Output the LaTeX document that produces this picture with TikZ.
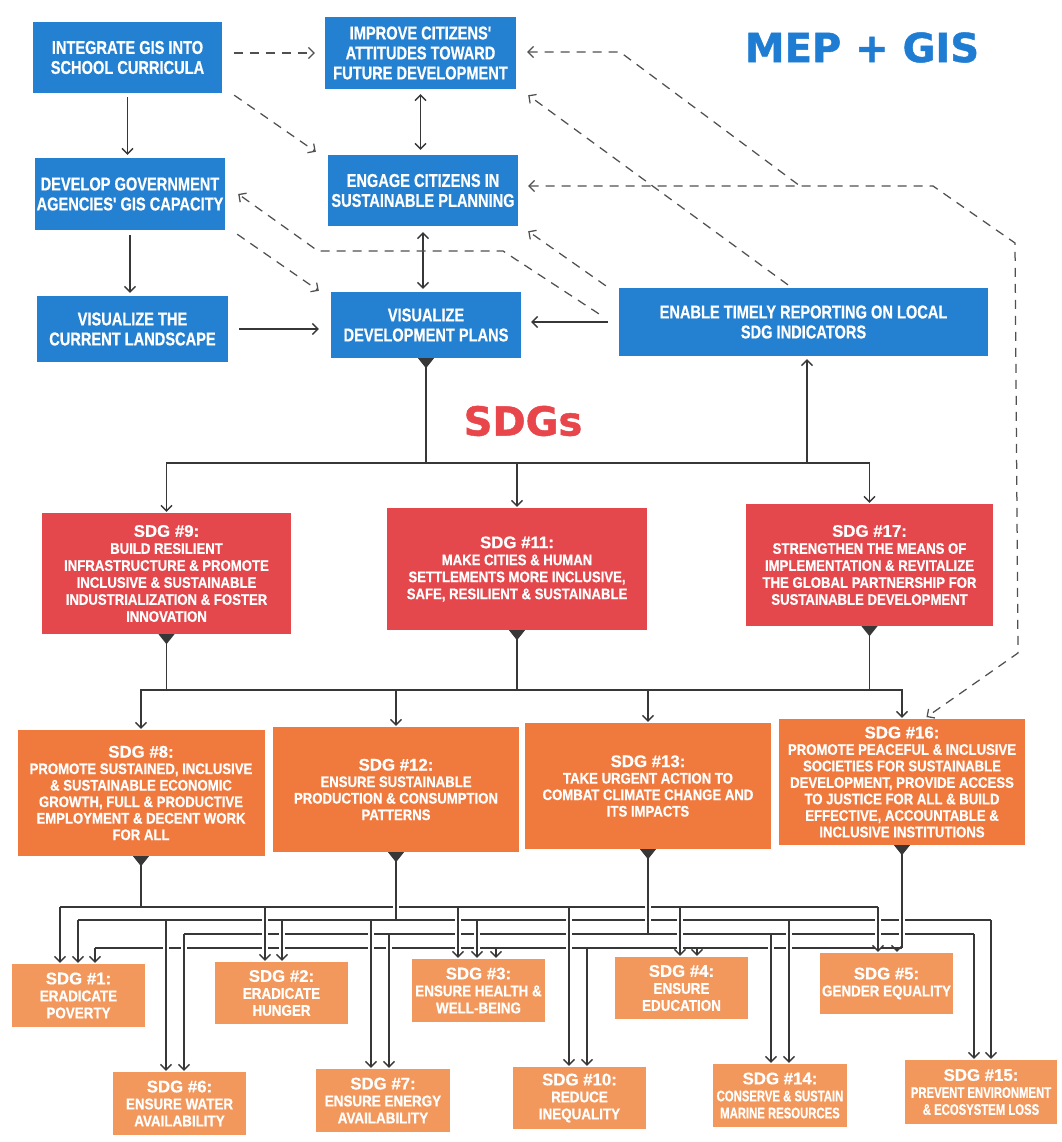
\documentclass[tikz,border=0pt]{standalone}
\usepackage{fontspec}
\usetikzlibrary{arrows.meta}
\newfontfamily\condfont{Liberation Sans}[FakeStretch=0.86,FakeBold=0.6]
\newfontfamily\bluefont{Liberation Sans}[FakeStretch=0.79,FakeBold=0.6]
\newfontfamily\narrowfont{Liberation Sans}[FakeStretch=0.74,FakeBold=0.5]
\newfontfamily\plainfont{Liberation Sans}[FakeBold=0.6]
\newfontfamily\headfont{DejaVu Sans}[FakeBold=1.2]
\newcommand\sdgtitle[1]{{\plainfont\bfseries\fontsize{16.8}{18}\selectfont #1}}
\definecolor{mblue}{RGB}{36,128,208}
\definecolor{mred}{RGB}{228,72,76}
\definecolor{morange}{RGB}{240,122,62}
\definecolor{mlite}{RGB}{243,152,92}
\definecolor{tblue}{RGB}{30,125,210}
\definecolor{tred}{RGB}{232,70,75}
\definecolor{lc}{RGB}{55,55,55}
\definecolor{dc}{RGB}{80,80,80}
\tikzset{
  nbox/.style={inner sep=0pt, align=center, text=white},
  sz/.style 2 args={minimum width=#1, minimum height=#2},
  bluebox/.style={nbox, fill=mblue, font=\bluefont\bfseries\fontsize{18.5}{20}\selectfont},
  redbox/.style={nbox, fill=mred, font=\condfont\bfseries\fontsize{15.3}{17}\selectfont},
  orangebox/.style={nbox, fill=morange, font=\condfont\bfseries\fontsize{15.3}{16.5}\selectfont},
  litebox/.style={nbox, fill=mlite, font=\condfont\bfseries\fontsize{15.6}{17}\selectfont},
  narrowtext/.style={font=\narrowfont\bfseries\fontsize{15.3}{17}\selectfont},
  conn/.style={draw=lc, line width=1.35pt},
  dconn/.style={draw=dc, line width=1.25pt, dash pattern=on 9pt off 7pt},
  halo/.style={draw=white, line width=6pt},
  tri/.style={fill=lc}
}
\begin{document}
\begin{tikzpicture}[x=1pt,y=-1pt,>={Straight Barb[length=5.5pt,width=11pt]}]
\fill[white] (0,0) rectangle (1061,1142);
\useasboundingbox (0,0) rectangle (1061,1142);

% ---------- titles ----------
\node[inner sep=0pt, text=tblue, font=\headfont\bfseries\fontsize{40}{40}\selectfont] (mep) at (862,47.5) {MEP + GIS};
\node[inner sep=0pt, text=tred, font=\headfont\bfseries\fontsize{40}{40}\selectfont] (sdgs) at (523,421) {SDGs};

% ---------- MEP + GIS boxes ----------
\node[bluebox, sz={189}{71}] (int) at (127.5,57.5) {INTEGRATE GIS INTO\\SCHOOL CURRICULA};
\node[bluebox, sz={191}{72}] (imp) at (420.5,53) {IMPROVE CITIZENS'\\ATTITUDES TOWARD\\FUTURE DEVELOPMENT};
\node[bluebox, sz={190}{72}] (dev) at (130,194) {DEVELOP GOVERNMENT\\AGENCIES' GIS CAPACITY};
\node[bluebox, sz={190}{71}] (eng) at (423,190.5) {ENGAGE CITIZENS IN\\SUSTAINABLE PLANNING};
\node[bluebox, sz={191}{66}] (vcur) at (132.5,329) {VISUALIZE THE\\CURRENT LANDSCAPE};
\node[bluebox, sz={190}{66}] (vdev) at (426,325) {VISUALIZE\\DEVELOPMENT PLANS};
\node[bluebox, sz={369}{68}] (ena) at (803.5,322) {ENABLE TIMELY REPORTING ON LOCAL\\SDG INDICATORS};

% ---------- primary SDGs ----------
\node[redbox, sz={249}{121}] (s9) at (166.5,573.5) {\sdgtitle{SDG \#9:}\\BUILD RESILIENT\\INFRASTRUCTURE \& PROMOTE\\INCLUSIVE \& SUSTAINABLE\\INDUSTRIALIZATION \& FOSTER\\INNOVATION};
\node[redbox, sz={260}{122}] (s11) at (517,569) {\sdgtitle{SDG \#11:}\\MAKE CITIES \& HUMAN\\SETTLEMENTS MORE INCLUSIVE,\\SAFE, RESILIENT \& SUSTAINABLE};
\node[redbox, sz={247}{122}] (s17) at (869.5,565) {\sdgtitle{SDG \#17:}\\STRENGTHEN THE MEANS OF\\IMPLEMENTATION \& REVITALIZE\\THE GLOBAL PARTNERSHIP FOR\\SUSTAINABLE DEVELOPMENT};

% ---------- secondary SDGs ----------
\node[orangebox, sz={247}{126}] (s8) at (141,793) {\sdgtitle{SDG \#8:}\\PROMOTE SUSTAINED, INCLUSIVE\\\& SUSTAINABLE ECONOMIC\\GROWTH, FULL \& PRODUCTIVE\\EMPLOYMENT \& DECENT WORK\\FOR ALL};
\node[orangebox, sz={246}{125}] (s12) at (396,789.5) {\sdgtitle{SDG \#12:}\\ENSURE SUSTAINABLE\\PRODUCTION \& CONSUMPTION\\PATTERNS};
\node[orangebox, sz={246}{126}] (s13) at (648,786) {\sdgtitle{SDG \#13:}\\TAKE URGENT ACTION TO\\COMBAT CLIMATE CHANGE AND\\ITS IMPACTS};
\node[orangebox, sz={246}{126}] (s16) at (902,782) {\sdgtitle{SDG \#16:}\\PROMOTE PEACEFUL \& INCLUSIVE\\SOCIETIES FOR SUSTAINABLE\\DEVELOPMENT, PROVIDE ACCESS\\TO JUSTICE FOR ALL \& BUILD\\EFFECTIVE, ACCOUNTABLE \&\\INCLUSIVE INSTITUTIONS};

% ---------- remaining SDGs ----------
\node[litebox, sz={133}{63}] (s1) at (78.5,995.5) {\sdgtitle{SDG \#1:}\\ERADICATE\\POVERTY};
\node[litebox, sz={133}{62}] (s2) at (281.5,993) {\sdgtitle{SDG \#2:}\\ERADICATE\\HUNGER};
\node[litebox, sz={133}{63}] (s3) at (478.5,990.5) {\sdgtitle{SDG \#3:}\\ENSURE HEALTH \&\\WELL-BEING};
\node[litebox, sz={133}{62}] (s4) at (681.5,988) {\sdgtitle{SDG \#4:}\\ENSURE\\EDUCATION};
\node[litebox, sz={133}{61}] (s5) at (886.5,983.5) {\sdgtitle{SDG \#5:}\\GENDER EQUALITY};
\node[litebox, sz={133}{63}] (s6) at (179.5,1103.5) {\sdgtitle{SDG \#6:}\\ENSURE WATER\\AVAILABILITY};
\node[litebox, sz={134}{63}] (s7) at (383,1100.5) {\sdgtitle{SDG \#7:}\\ENSURE ENERGY\\AVAILABILITY};
\node[litebox, sz={133}{62}] (s10) at (579.5,1098) {\sdgtitle{SDG \#10:}\\REDUCE\\INEQUALITY};
\node[litebox, narrowtext, sz={134}{63}] (s14) at (780,1095.5) {\sdgtitle{SDG \#14:}\\CONSERVE \& SUSTAIN\\MARINE RESOURCES};
\node[litebox, narrowtext, sz={152}{64}] (s15) at (981,1092) {\sdgtitle{SDG \#15:}\\PREVENT ENVIRONMENT\\\& ECOSYSTEM LOSS};

% ---------- solid links between the MEP + GIS boxes ----------
\draw[conn,->,shorten <=4pt,shorten >=3pt] (int.south) -- (int.south |- dev.north);
\draw[conn,->,shorten <=5pt,shorten >=3pt] (dev.south) -- (dev.south |- vcur.north);
\draw[conn,<->,shorten <=5pt,shorten >=5pt] (imp.south) -- (imp.south |- eng.north);
\draw[conn,<->,shorten <=6pt,shorten >=3pt] (eng.south) -- (eng.south |- vdev.north);
\draw[conn,->,shorten <=11pt,shorten >=12pt] (vcur.east) -- (vcur.east -| vdev.west);
\draw[conn,->,shorten <=11pt,shorten >=10pt] (ena.west) -- (ena.west -| vdev.east);

% ---------- dashed links ----------
\draw[dconn,->,shorten <=12pt,shorten >=10pt] (int.east |- imp.west) -- (imp.west);
\draw[dconn,->] ([shift={(12,2)}]int.south east) -- ([shift={(-12,-3)}]eng.north west);
\draw[dconn,->] ([shift={(12,4)}]dev.south east) -- ([shift={(-12,-1)}]vdev.north west);
\draw[dconn,->] ([shift={(-20,26)}]ena.north west) -- (503,251) -- (318,251) -- ([shift={(13,0)}]dev.east);
\draw[dconn,->] ([shift={(-13,-2)}]ena.north west) -- ([shift={(10,5)}]eng.south east);
\draw[dconn,->,shorten <=5pt] (ena.north -| 792,0) -- ([shift={(12,6)}]imp.south east);
\draw[dconn,<->,shorten <=10pt,shorten >=3pt] (eng.east |- 0,186) -- (933,186) -- (1015,243) -- (1018,653) -- (s16.north -| 924,0);
\draw[dconn,<-,shorten <=11pt] (imp.east |- 0,52) -- (620,52) -- (800,186);

% ---------- first tier ----------
\coordinate (j1) at (vdev.south |- 0,463);
\draw[conn] (vdev.south) -- (j1);
\draw[conn,->,shorten >=1pt] (j1) -| (s9.north);
\draw[conn,->,shorten >=1pt] (j1) -| (s17.north);
\draw[conn,->,shorten >=1pt] (j1 -| s11.north) -- (s11.north);
\draw[conn,->,shorten >=3pt] (j1 -| 807,0) -- (ena.south -| 807,0);

% ---------- second tier ----------
\coordinate (j2) at (517,690);
\draw[conn] (s9.south) -- (s9.south |- j2);
\draw[conn] (s11.south) -- (s11.south |- j2);
\draw[conn] (s17.south) -- (s17.south |- j2);
\draw[conn,<->,shorten <=1pt,shorten >=1pt] (s8.north) |- (j2) -| (s16.north);
\draw[conn,->,shorten >=1pt] (j2 -| s12.north) -- (s12.north);
\draw[conn,->,shorten >=1pt] (j2 -| s13.north) -- (s13.north);

% ---------- third tier: four distribution buses ----------
\draw[conn] (60,907) -- (878,907);
\draw[conn] (78,920) -- (991,920);
\draw[conn] (184,934) -- (974,934);
\draw[conn] (95,948) -- (902,948);
% breaks in the buses where the drops cross them
\foreach \x/\y in {60/907, 265/907, 458/907, 680/907, 878/907, 569/907,
                   78/920, 282/920, 477/920, 166/920, 371/920, 789/920, 991/920,
                   184/934, 389/934, 771/934, 974/934}
  \draw[halo] (\x,\y+4) -- (\x,951);
\draw[halo] (s12.south |- 0,870) -- (s12.south |- 0,916);
\draw[halo] (s13.south |- 0,870) -- (s13.south |- 0,930);
\draw[halo] (s16.south |- 0,870) -- (s16.south |- 0,944);
% stems
\draw[conn] (s8.south) -- (s8.south |- 0,907);
\draw[conn] (s12.south) -- (s12.south |- 0,920);
\draw[conn] (s13.south) -- (s13.south |- 0,934);
\draw[conn] (s16.south) -- (s16.south |- 0,948);
% drops
\foreach \x/\y/\t in {60/907/s1, 265/907/s2, 458/907/s3, 680/907/s4, 878/907/s5, 569/907/s10,
                      78/920/s1, 282/920/s2, 477/920/s3, 166/920/s6, 371/920/s7, 789/920/s14, 991/920/s15,
                      184/934/s6, 389/934/s7, 771/934/s14, 974/934/s15,
                      95/948/s1, 496/948/s3, 697/948/s4, 897/948/s5, 587/948/s10}
  \draw[conn,->,shorten >=1pt] (\x,\y) -- (\t.north -| \x,0);

% ---------- junction triangles ----------
\foreach \n in {vdev,s9,s11,s17,s8,s12,s13,s16}
  \fill[tri] (\n.south) ++(-8,0) -- ++(16,0) -- ++(-8,10) -- cycle;
\end{tikzpicture}
\end{document}
